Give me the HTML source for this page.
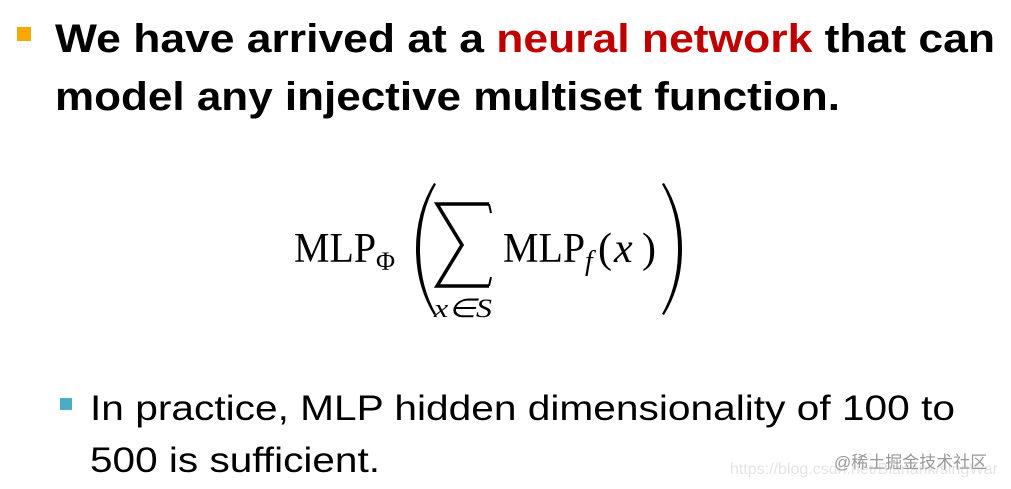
<!DOCTYPE html>
<html><head><meta charset="utf-8"><style>
html,body{margin:0;padding:0;background:#fff;}
svg{display:block;}
</style></head><body>
<svg width="1011" height="489" viewBox="0 0 1011 489" xmlns="http://www.w3.org/2000/svg">
<rect x="17" y="27" width="14" height="14" fill="#f5a800"/>
<g font-family="Liberation Sans, sans-serif" font-weight="bold" font-size="40" fill="#000">
<text x="55" y="52" textLength="940" lengthAdjust="spacingAndGlyphs">We have arrived at a <tspan fill="#c00000">neural network</tspan> that can</text>
<text x="55" y="110" textLength="785" lengthAdjust="spacingAndGlyphs">model any injective multiset function.</text>
</g>
<!-- parentheses -->
<path d="M436,184 Q420,212 420,249 Q420,286 436,314 L434,315 Q416,286 416,249 Q416,212 434,183 Z" fill="#000"/>
<path d="M662,184 Q678,212 678,249 Q678,286 662,314 L664,315 Q682,286 682,249 Q682,212 664,183 Z" fill="#000"/>
<!-- sum -->
<path d="M489,204 L437,204 L462,245 L437,286 L489,286" fill="none" stroke="#000" stroke-width="3.5" stroke-linejoin="miter"/>
<path d="M489,204 L491,213" stroke="#000" stroke-width="2"/>
<path d="M489,286 L491,277" stroke="#000" stroke-width="2"/>
<g font-family="Liberation Serif, serif" fill="#000">
<text x="294" y="262" font-size="42" textLength="82" lengthAdjust="spacingAndGlyphs">MLP</text>
<text x="376" y="270" font-size="26">Φ</text>
<text x="434" y="317" font-size="26" font-style="italic" textLength="58" lengthAdjust="spacingAndGlyphs">x∈S</text>
<text x="503" y="262" font-size="42" textLength="82" lengthAdjust="spacingAndGlyphs">MLP</text>
<text x="585" y="270" font-size="28" font-style="italic">f</text>
<text x="598" y="262" font-size="42">(</text>
<text x="614" y="262" font-size="42" font-style="italic">x</text>
<text x="642" y="262" font-size="42">)</text>
</g>
<rect x="60" y="398" width="12" height="12" fill="#4bacc6"/>
<g font-family="Liberation Sans, sans-serif" font-size="35" fill="#000">
<text x="90" y="420" textLength="865" lengthAdjust="spacingAndGlyphs">In practice, MLP hidden dimensionality of 100 to</text>
<text x="90" y="472" textLength="290" lengthAdjust="spacingAndGlyphs">500 is sufficient.</text>
</g>
<text x="730" y="474" font-family="Liberation Sans, sans-serif" font-size="16" fill="#e4e4e4">https://blog.csdn.net/Bianank/singWar</text>
<text x="834" y="468" font-family="Liberation Sans, 'Noto Sans CJK SC', sans-serif" font-size="17" fill="#999">@稀土掘金技术社区</text>
</svg>
</body></html>
